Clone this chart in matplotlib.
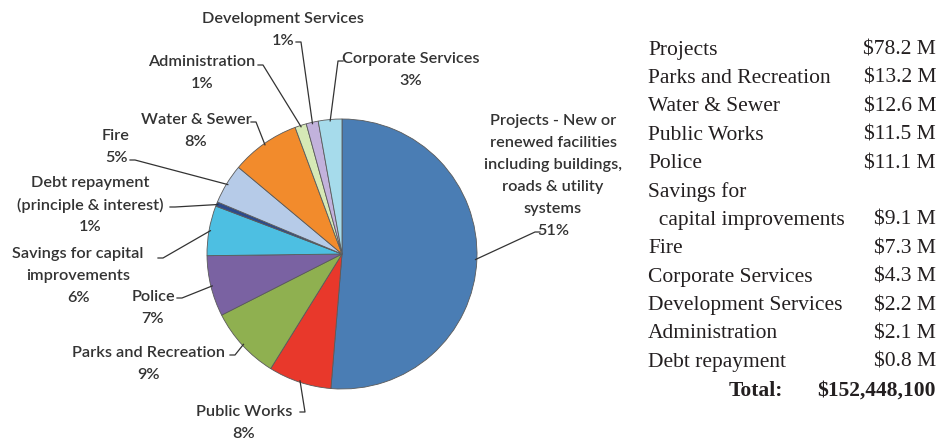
import numpy as np
import matplotlib
matplotlib.use("Agg")
import matplotlib.pyplot as plt

# Pie slices, clockwise from 12 o'clock (values in $M)
slices = ["Projects", "Public Works", "Parks and Recreation", "Police",
          "Savings for capital improvements", "Debt repayment", "Fire",
          "Water & Sewer", "Administration", "Development Services",
          "Corporate Services"]
values = [78.2, 11.5, 13.2, 11.1, 9.1, 0.8, 7.3, 12.6, 2.1, 2.2, 4.3]
percents = ["51%", "8%", "9%", "7%", "6%", "1%", "5%", "8%", "1%", "1%", "3%"]
colors = ["#4a7db4", "#e8382b", "#8fb050", "#7a62a2", "#4dbfe2", "#2c4a8c",
          "#b6cbe8", "#f28b2c", "#d6e9b6", "#c2b2dc", "#a6dbeb"]

# text shown for each slice label (before the percentage)
label_text = [
    "Projects - New or\nrenewed facilities\nincluding buildings,\nroads & utility\nsystems",
    "Public Works", "Parks and Recreation", "Police",
    "Savings for capital\nimprovements", "Debt repayment\n(principle & interest)",
    "Fire", "Water & Sewer", "Administration", "Development Services",
    "Corporate Services"]

# right hand table
table_names = ["Projects", "Parks and Recreation", "Water & Sewer", "Public Works",
               "Police", "Savings for", "  capital improvements", "Fire",
               "Corporate Services", "Development Services", "Administration",
               "Debt repayment"]
table_values = ["$78.2 M", "$13.2 M", "$12.6 M", "$11.5 M", "$11.1 M", "",
                "$9.1 M", "$7.3 M", "$4.3 M", "$2.2 M", "$2.1 M", "$0.8 M"]
total_text = "$152,448,100"

W, H = 939, 441
fig = plt.figure(figsize=(W / 100, H / 100), dpi=100)
ax = fig.add_axes([0, 0, 1, 1])

cx, cy, r = 342, H - 254, 135
wedges, _ = ax.pie(values, colors=colors, startangle=90, counterclock=False,
                   center=(cx, cy), radius=r,
                   wedgeprops=dict(edgecolor="#5a5a5a", linewidth=0.6))
ax.set_xlim(0, W)
ax.set_ylim(0, H)
ax.set_aspect("equal")
ax.axis("off")

# label placement (image pixel coords, y from top): text centre, leader anchor, stub direction
label_pos = {
    "Projects": (553, 176, (540, 232), -1),
    "Public Works": (244, 423, (300, 412), 1),
    "Parks and Recreation": (148, 364, (230, 355), 1),
    "Police": (153, 308, (177, 298), 1),
    "Savings for capital improvements": (78, 276, (158, 258), 1),
    "Debt repayment": (90, 205, (170, 207), 1),
    "Fire": (116, 147, (130, 160), 1),
    "Water & Sewer": (196, 131, (251, 122), 1),
    "Administration": (202, 73, (258, 65), 1),
    "Development Services": (283, 30, (296, 42), 1),
    "Corporate Services": (411, 70, (343, 61), -1),
}

lab_font = dict(family=["Lato", "DejaVu Sans"], fontsize=11.7, fontweight="semibold",
                color="#333333")
line_h = 22
total = sum(values)
cum = 0
for i, name in enumerate(slices):
    v = values[i]
    mid = np.deg2rad(90 - 360 * (cum + v / 2) / total)
    cum += v
    tx, ty, (axx, ayy), d = label_pos[name]
    lines = (label_text[i] + "\n" + percents[i]).split("\n")
    n = len(lines)
    for k, s in enumerate(lines):
        yy = ty + (k - (n - 1) / 2) * line_h
        ax.text(tx, H - yy, s, ha="center", va="center", **lab_font)
    ex = cx + r * 0.99 * np.cos(mid)
    ey = cy + r * 0.99 * np.sin(mid)
    ax.plot([axx, axx + d * 5, ex], [H - ayy, H - ayy, ey], color="#333333", lw=0.9)

# table on the right
tab_font = dict(family=["Liberation Serif", "DejaVu Serif"], fontsize=15.5, color="#231f20")
y0, dy = 50, 28.4
for i in range(len(table_names)):
    y = H - (y0 + i * dy)
    ax.text(648, y, table_names[i], ha="left", va="center", **tab_font)
    ax.text(936, y, table_values[i], ha="right", va="center", **tab_font)
y = H - (y0 + len(table_names) * dy)
ax.text(783, y, "Total:", ha="right", va="center", fontweight="bold", **tab_font)
ax.text(936, y, total_text, ha="right", va="center", fontweight="bold", **tab_font)

fig.savefig("out.png", dpi=100)
